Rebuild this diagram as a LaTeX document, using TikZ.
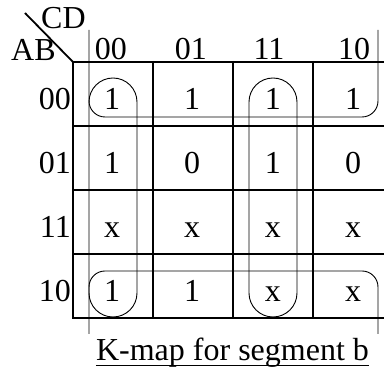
\documentclass[tikz,border=0pt]{standalone}
\usepackage{fontspec}
\setmainfont{Liberation Serif}
\begin{document}
\begin{tikzpicture}[x=1pt,y=-1pt,
  txt/.style={font=\fontsize{32}{32}\selectfont, inner sep=0pt, anchor=base},
  rlab/.style={txt, anchor=base east},
  grid/.style={line width=2.6pt},
  loop/.style={line width=0.9pt}]
\useasboundingbox (0,0) rectangle (384,371);
\begin{scope}
\clip (0,0) rectangle (384,371);
% grid
\foreach \y in {62,126,190,254,318} \draw[grid] (72,\y) -- (390,\y);
\foreach \x in {73,153,233,313} \draw[grid] (\x,61) -- (\x,319);
% diagonal
\coordinate (dtop) at (25,13);
\coordinate (dcorner) at (73,62);
\draw[line width=1.8pt] (dtop) -- (dcorner);
% loops
\draw[loop, rounded corners=16pt] (89,30) -- (89,117) -- (378,117) -- (378,30);
\draw[loop, rounded corners=16pt] (89,334) -- (89,271) -- (378,271) -- (378,334);
\draw[loop, rounded corners=24pt] (89,78) rectangle (137,317);
\draw[loop, rounded corners=24pt] (249,78) rectangle (297,317);
\end{scope}
% header labels
\node[txt, anchor=base west] (cd) at (41,29) {CD};
\node[txt, anchor=base west] (ab) at (11,61) {AB};
\node[txt] (c00) at (111,60) {00};
\node[txt] (c01) at (191,60) {01};
\node[txt] (c11) at (269,60) {11};
\node[txt] (c10) at (354,60) {10};
\node[rlab] (r00) at (71,110) {00};
\node[rlab] (r01) at (71,174) {01};
\node[rlab] (r11) at (71,238) {11};
\node[rlab] (r10) at (71,302) {10};
% cells
\node[txt] (m0) at (112,110) {1};
\node[txt] (m1) at (192,110) {1};
\node[txt] (m3) at (273,110) {1};
\node[txt] (m2) at (353,110) {1};
\node[txt] (m4) at (112,174) {1};
\node[txt] (m5) at (192,174) {0};
\node[txt] (m7) at (273,174) {1};
\node[txt] (m6) at (353,174) {0};
\node[txt] (m12) at (112,238) {x};
\node[txt] (m13) at (192,238) {x};
\node[txt] (m15) at (273,238) {x};
\node[txt] (m14) at (353,238) {x};
\node[txt] (m8) at (112,302) {1};
\node[txt] (m9) at (192,302) {1};
\node[txt] (m11) at (273,302) {x};
\node[txt] (m10) at (353,302) {x};
% caption
\node[txt] (cap) at (232.5,361) {K-map for segment b};
\draw[line width=1.8pt] ([yshift=-4.5pt]cap.base west) -- ([yshift=-4.5pt]cap.base east);
\end{tikzpicture}
\end{document}
